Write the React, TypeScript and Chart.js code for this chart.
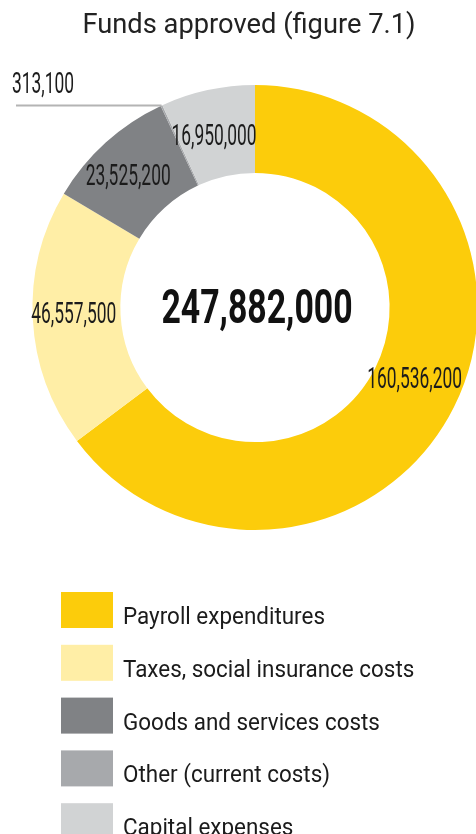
import React, { useEffect, useRef } from "react";
import { Chart, registerables } from "chart.js";

Chart.register(...registerables);

const titleText = "Funds approved (figure 7.1)";
const categories = [
  "Payroll expenditures",
  "Taxes, social insurance costs",
  "Goods and services costs",
  "Other (current costs)",
  "Capital expenses",
];
const values = [160536200, 46557500, 23525200, 313100, 16950000];
const colors = ["#FCCC0B", "#FFEEA6", "#808285", "#A7A9AC", "#D1D3D4"];

const fmt = (v: number) => v.toLocaleString("en-US");

function drawScaled(
  ctx: CanvasRenderingContext2D,
  text: string,
  x: number,
  y: number,
  font: string,
  sx: number,
  align: CanvasTextAlign,
  color: string
) {
  ctx.save();
  ctx.font = font;
  ctx.fillStyle = color;
  ctx.textAlign = align;
  ctx.textBaseline = "alphabetic";
  ctx.translate(x, y);
  ctx.scale(sx, 1);
  ctx.fillText(text, 0, 0);
  ctx.restore();
}

const overlayPlugin = {
  id: "overlay",
  afterDatasetsDraw(chart: any) {
    const ctx: CanvasRenderingContext2D = chart.ctx;
    const meta = chart.getDatasetMeta(0);
    const arcs = meta.data;
    const cx = arcs[0].x;
    const cy = arcs[0].y;
    const textColor = "#1b1b1b";

    // title
    drawScaled(ctx, titleText, 249, 33, "400 28px Roboto", 0.975, "center", "#222");

    // total in the centre
    const total = values.reduce((a, b) => a + b, 0);
    drawScaled(ctx, fmt(total), cx + 2, cy + 15.5, "700 49px Roboto", 0.69, "center", "#111");

    // slice labels
    const tweaks = [
      [0, -10],
      [-3, -4],
      [-7, -1],
      [0, 0],
      [-3, 1],
    ];
    const labelFont = "400 29px Roboto";
    const labelScale = 0.6;
    arcs.forEach((arc: any, i: number) => {
      if (i === 3) return;
      const p = arc.tooltipPosition();
      drawScaled(ctx, fmt(values[i]), p.x + tweaks[i][0], p.y + tweaks[i][1] + 10.5, labelFont, labelScale, "center", textColor);
    });

    // leader for the tiny slice
    const small = arcs[3];
    const props = small.getProps(["x", "y", "startAngle", "endAngle", "outerRadius"], true);
    const mid = (props.startAngle + props.endAngle) / 2;
    const ox = props.x + Math.cos(mid) * props.outerRadius;
    const oy = props.y + Math.sin(mid) * props.outerRadius;
    ctx.save();
    ctx.strokeStyle = "#B4B4B4";
    ctx.lineWidth = 2;
    ctx.beginPath();
    ctx.moveTo(ox, oy);
    ctx.lineTo(16, oy);
    ctx.stroke();
    ctx.restore();
    drawScaled(ctx, fmt(values[3]), 12, oy - 12.5, labelFont, labelScale, "left", textColor);

    // legend
    const boxX = 61;
    const boxW = 52;
    const boxH = 36;
    const top0 = 592;
    const step = 52.8;
    categories.forEach((name, i) => {
      const y = top0 + i * step;
      ctx.save();
      ctx.fillStyle = colors[i];
      ctx.fillRect(boxX, y, boxW, boxH);
      ctx.restore();
      drawScaled(ctx, name, 123, y + 32, "400 24px Roboto", 0.935, "left", "#1b1b1b");
    });
  },
};

export default function App() {
  const canvasRef = useRef<HTMLCanvasElement | null>(null);

  useEffect(() => {
    const canvas = canvasRef.current;
    if (!canvas) return;
    const chart = new Chart(canvas, {
      type: "doughnut",
      data: {
        labels: categories,
        datasets: [
          {
            data: values,
            backgroundColor: colors,
            borderWidth: 0,
            hoverOffset: 0,
            offset: 0,
          },
        ],
      },
      options: {
        responsive: false,
        animation: false,
        devicePixelRatio: 1,
        cutout: "60.5%",
        layout: {
          padding: { top: 85, bottom: 304, left: 32.5, right: 2.5 },
        },
        plugins: {
          legend: { display: false },
          title: { display: false },
          tooltip: { enabled: false },
        },
        events: [],
      },
      plugins: [overlayPlugin],
    });
    return () => chart.destroy();
  }, []);

  return (
    <div
      style={{
        position: "absolute",
        left: 0,
        top: 0,
        width: 476,
        height: 834,
        overflow: "hidden",
        background: "#fff",
      }}
    >
      <canvas ref={canvasRef} width={480} height={834} style={{ display: "block", width: 480, height: 834 }} />
    </div>
  );
}
